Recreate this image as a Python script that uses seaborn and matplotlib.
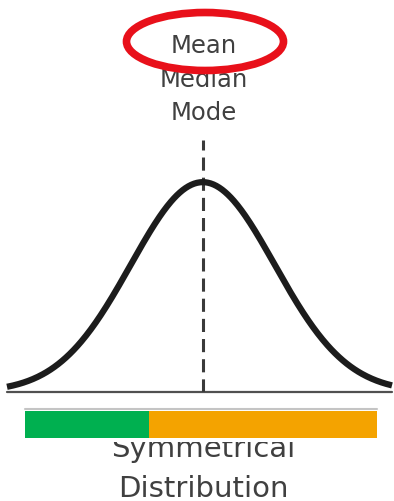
import numpy as np
import pandas as pd
import matplotlib
matplotlib.use("Agg")
import matplotlib.pyplot as plt
import seaborn as sns
from matplotlib.patches import Ellipse, Rectangle
from matplotlib.lines import Line2D

# distribution shown (standard normal, mean = median = mode)
dist_mean = 0.0
dist_sd = 1.0

# labels
center_labels = ["Mean", "Median", "Mode"]
caption_lines = ["Symmetrical", "Distribution"]

# colour bar under the curve (share of width, %)
segment_shares = [35.2, 64.8]
segment_colors = ["#00B050", "#F4A300"]

W, H = 394, 502

sns.set_style("white")
plt.rcParams['font.family'] = ['DejaVu Sans']

fig = plt.figure(figsize=(W / 100, H / 100), dpi=100)
fig.patch.set_facecolor("white")

# bell curve
ax = fig.add_axes([7 / W, 109 / H, 385 / W, 263 / H])
x = np.linspace(dist_mean - 2.72 * dist_sd, dist_mean + 2.63 * dist_sd, 400)
density = np.exp(-0.5 * ((x - dist_mean) / dist_sd) ** 2) / (dist_sd * np.sqrt(2 * np.pi))
df = pd.DataFrame({'x': x, 'density': density})
sns.lineplot(data=df, x='x', y='density', ax=ax, color='#1c1c1c', lw=4.5,
             clip_on=False, solid_capstyle='butt')
ax.set_xlim(x[0], x[-1])
ax.set_ylim(0, 0.5)
ax.axhline(0, color='#505050', lw=1.6, clip_on=False, zorder=1)
ax.axvline(dist_mean, ymin=0, ymax=0.96, color='#3a3a3a', lw=2.2,
           dashes=(4.3, 2.3), zorder=1)
ax.axis('off')

# labels above the peak
label_baselines = [53, 87, 120]
for lab, yb in zip(center_labels, label_baselines):
    fig.text(204 / W, 1 - yb / H, lab, ha='center', va='baseline',
             fontsize=17.5, color='#404040', zorder=1)

# red highlight round "Mean"
fig.add_artist(Ellipse((205 / W, 1 - 42.5 / H), 157 / W, 58 / H,
                       transform=fig.transFigure, fill=False,
                       edgecolor='#e8101a', lw=5.5, zorder=5))

# caption (partly hidden by the bar)
caption_baselines = [457, 497]
for lab, yb in zip(caption_lines, caption_baselines):
    fig.text(203 / W, 1 - yb / H, lab, ha='center', va='baseline',
             fontsize=21, color='#404040', zorder=1)

# white strip under the bar that hides the top of the caption
fig.add_artist(Rectangle((25 / W, 1 - 442.5 / H), 352 / W, 5 / H,
                         transform=fig.transFigure, facecolor='white',
                         edgecolor='none', zorder=1.5))
# thin grey rule on top of the bar
fig.add_artist(Line2D([25 / W, 377 / W], [1 - 409.5 / H, 1 - 409.5 / H],
                      transform=fig.transFigure, color='#c4c4c4', lw=1.5,
                      zorder=1.5))

# green / orange bar
bax = fig.add_axes([25 / W, 1 - 438.5 / H, 352 / W, 27 / H])
bax.set_zorder(2)
lefts = np.cumsum([0] + segment_shares[:-1])
bax.barh(0, segment_shares, left=lefts, color=segment_colors,
         height=1.0, linewidth=0)
bax.set_xlim(0, sum(segment_shares))
bax.set_ylim(-0.5, 0.5)
bax.axis('off')

fig.savefig("out.png", dpi=100, facecolor="white")
